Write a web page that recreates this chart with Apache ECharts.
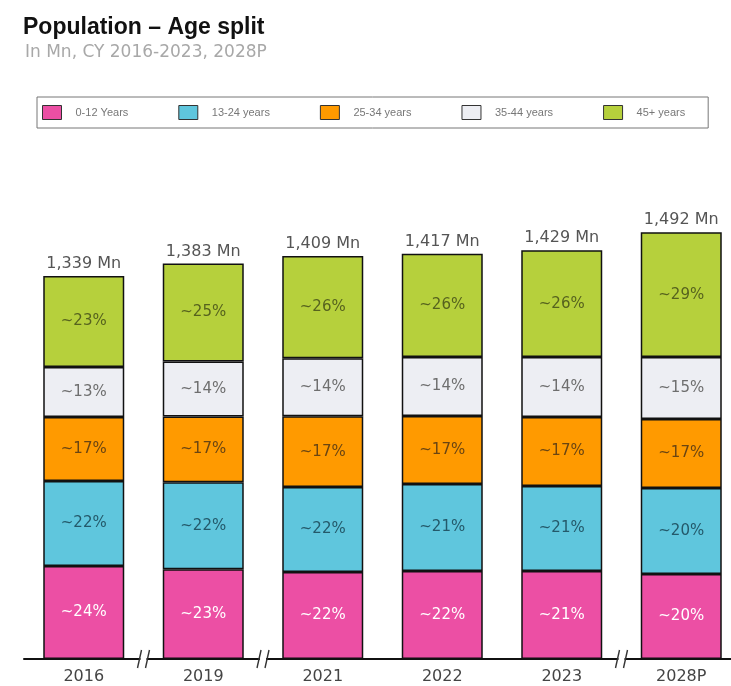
<!DOCTYPE html>
<html><head><meta charset="utf-8">
<script src="https://cdn.jsdelivr.net/npm/echarts@6/dist/echarts.min.js"></script>
<style>html,body{margin:0;padding:0;background:#fff}#c{width:731px;height:686px}</style>
</head><body><div id="c"></div>
<script>
const years = ['2016', '2019', '2021', '2022', '2023', '2028P'];
const totals = [1339, 1383, 1409, 1417, 1429, 1492];
const seriesNames = ['0-12 Years', '13-24 years', '25-34 years', '35-44 years', '45+ years'];
// segment sizes in Mn
const age0_12 = [325, 314, 304, 308, 308, 297];
const age13_24 = [297, 304, 297, 304, 297, 301];
const age25_34 = [224, 230, 248, 238, 241, 241];
const age35_44 = [175, 192, 203, 206, 210, 217];
const age45p = [318, 343, 357, 361, 373, 436];
// share labels as printed
const pct0_12 = [24, 23, 22, 22, 21, 20];
const pct13_24 = [22, 22, 22, 21, 21, 20];
const pct25_34 = [17, 17, 17, 17, 17, 17];
const pct35_44 = [13, 14, 14, 14, 14, 15];
const pct45p = [23, 25, 26, 26, 26, 29];
// axis breaks sit between these category pairs
const breaks = [[0, 1], [1, 2], [4, 5]];

const colors = ['#EC4FA4', '#5FC6DD', '#FF9A00', '#EDEEF3', '#B6D03C'];
const labelColors = ['#FFFFFF', '#24596A', '#6A4512', '#6E6E6E', '#56621E'];
const values = [age0_12, age13_24, age25_34, age35_44, age45p];
const pcts = [pct0_12, pct13_24, pct25_34, pct35_44, pct45p];
const FONT = 'Liberation Sans';
const WIDE = 'DejaVu Sans';

const chart = echarts.init(document.getElementById('c'));
const series = [{
  name: 'total', type: 'bar', data: totals, barWidth: 81, barGap: '-100%', z: 1,
  itemStyle: { color: 'rgba(0,0,0,0)' }, silent: true,
  label: { show: true, position: 'top', distance: 4, color: '#555', fontFamily: WIDE, fontSize: 16,
    formatter: p => totals[p.dataIndex].toLocaleString('en-US') + ' Mn' }
}];
values.forEach((v, i) => {
  series.push({
    name: seriesNames[i], type: 'bar', stack: 'pop', data: v, barWidth: 81, barGap: '-100%', z: 2,
    itemStyle: { color: colors[i], borderColor: '#111', borderWidth: 1.5 },
    label: { show: true, position: 'inside', color: labelColors[i], fontFamily: WIDE, fontSize: 15,
      formatter: p => '~' + pcts[i][p.dataIndex] + '%' }
  });
});

chart.setOption({
  animation: false,
  title: [
    { text: 'Population – Age split', left: 18, top: 11, textStyle: { fontFamily: FONT, fontWeight: 'bold', fontSize: 23, color: '#111' } },
    { text: 'In Mn, CY 2016-2023, 2028P', left: 20, top: 39, textStyle: { fontFamily: WIDE, fontWeight: 'normal', fontSize: 17, color: '#a8a8a8' } }
  ],
  legend: {
    data: seriesNames, left: 37, top: 97, orient: 'horizontal', icon: 'rect',
    borderColor: '#777', borderWidth: 1, padding: [8, 23, 8, 5],
    itemWidth: 19, itemHeight: 14, itemGap: 50,
    itemStyle: { borderColor: '#333', borderWidth: 1 },
    textStyle: { fontFamily: FONT, fontSize: 11, color: '#777', padding: [0, 0, 0, 9] },
    selectedMode: false
  },
  grid: { left: 24, width: 717, top: 230, bottom: 27, outerBoundsMode: 'none', containLabel: false },
  xAxis: {
    type: 'category', data: years,
    axisLine: { lineStyle: { color: '#111', width: 2 } },
    axisTick: { show: false },
    axisLabel: { fontFamily: WIDE, fontSize: 16, color: '#444', margin: 10 }
  },
  yAxis: { type: 'value', min: 0, max: 1500, show: false, splitLine: { show: false } },
  series: series
});

const g = [];
breaks.forEach(([a, b]) => {
  const pa = chart.convertToPixel({ xAxisIndex: 0 }, a);
  const pb = chart.convertToPixel({ xAxisIndex: 0 }, b);
  const y0 = chart.convertToPixel({ yAxisIndex: 0 }, 0);
  const x = (pa + pb) / 2;
  g.push({ type: 'rect', shape: { x: x - 3, y: y0 - 3, width: 6, height: 6 }, style: { fill: '#fff' }, z: 100 });
  g.push({ type: 'line', shape: { x1: x - 6, y1: y0 + 9, x2: x - 2, y2: y0 - 9 }, style: { stroke: '#333', lineWidth: 1.4 }, z: 101 });
  g.push({ type: 'line', shape: { x1: x + 2, y1: y0 + 9, x2: x + 6, y2: y0 - 9 }, style: { stroke: '#333', lineWidth: 1.4 }, z: 101 });
});
chart.setOption({ graphic: g });
</script></body></html>
